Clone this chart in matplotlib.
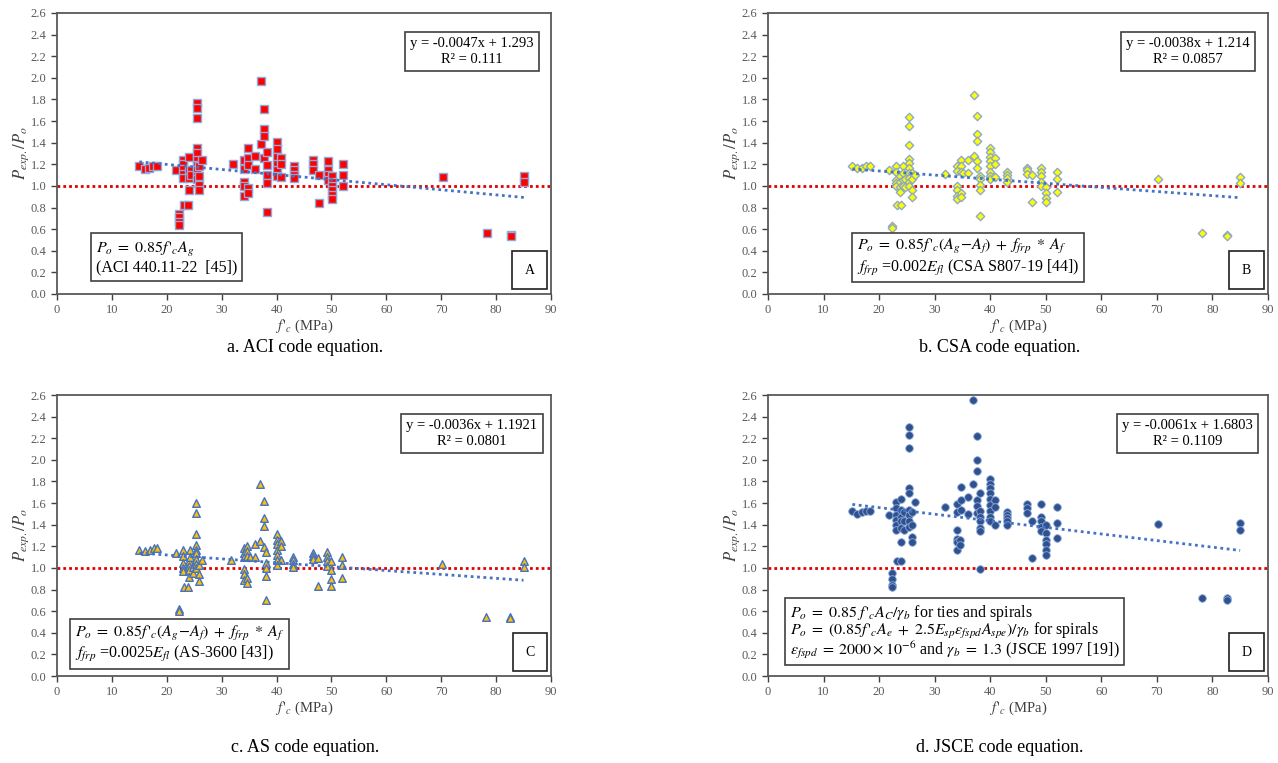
import numpy as np
import matplotlib.pyplot as plt

plt.rcParams['font.family'] = ['Liberation Serif', 'DejaVu Serif']
plt.rcParams['mathtext.fontset'] = 'stix'

# ---- datos: f'c (MPa) y P_exp/P_o para cada código ----
fc_aci = [15.0, 16.0, 16.8, 17.5, 18.2, 21.6,
          22.3, 22.3, 22.3, 22.3, 23.1, 23.8,
          23.0, 23.0, 23.0, 23.0, 23.0, 24.0, 24.0, 24.0, 24.0, 24.5, 24.5,
          25.5, 25.5, 25.5, 25.5, 25.5, 25.5, 25.5, 25.5, 25.5, 25.5,
          25.9, 25.9, 25.9, 25.9, 26.5, 32.0,
          34.1, 34.1, 34.1, 34.1, 34.1, 34.8, 34.8, 34.8, 34.8, 34.8,
          36.1, 36.1, 37.1, 37.1, 37.8, 37.8, 37.8, 37.8,
          38.2, 38.2, 38.2, 38.2, 38.2,
          40.1, 40.1, 40.1, 40.1, 40.1, 40.1, 40.9, 40.9, 40.9,
          43.1, 43.1, 43.1, 43.1, 46.7, 46.7, 46.7, 47.7, 47.7,
          49.3, 49.3, 49.3, 49.3, 50.1, 50.1, 50.1, 50.1, 50.1, 50.1,
          52.1, 52.1, 52.1, 70.3, 78.3, 82.7, 82.7, 85.1, 85.1]
ratio_aci = [1.18, 1.16, 1.17, 1.18, 1.18, 1.15,
             0.74, 0.71, 0.67, 0.64, 0.82, 0.82,
             1.24, 1.20, 1.16, 1.11, 1.07, 1.27, 1.15, 1.07, 0.96, 1.15, 1.10,
             1.77, 1.72, 1.63, 1.35, 1.30, 1.24, 1.19, 1.15, 1.09, 1.06,
             1.18, 1.09, 1.01, 0.96, 1.24, 1.20,
             1.24, 1.16, 1.04, 1.00, 0.91, 1.35, 1.26, 1.19, 0.98, 0.93,
             1.28, 1.16, 1.97, 1.39, 1.71, 1.53, 1.46, 1.26,
             1.31, 1.19, 1.10, 1.03, 0.76,
             1.41, 1.34, 1.27, 1.20, 1.15, 1.09, 1.26, 1.20, 1.08,
             1.18, 1.15, 1.10, 1.07, 1.24, 1.20, 1.15, 1.10, 0.84,
             1.23, 1.15, 1.10, 1.05, 1.09, 1.04, 1.00, 0.96, 0.92, 0.88,
             1.20, 1.10, 1.00, 1.08, 0.56, 0.55, 0.54, 1.09, 1.04]

fc_csa = [15.2, 16.1, 17.0, 17.6, 18.3, 21.8,
          22.4, 22.4, 23.2, 23.9,
          23.1, 23.1, 23.1, 23.1, 23.1, 23.8, 23.8, 23.8, 23.8,
          24.3, 24.3, 24.3, 24.3, 24.7, 24.7,
          25.4, 25.4, 25.4, 25.4, 25.4, 25.4, 25.4, 25.4, 25.4, 25.4,
          25.9, 25.9, 25.9, 25.9, 26.5, 31.8,
          34.1, 34.1, 34.1, 34.1, 34.1, 34.1, 34.7, 34.7, 34.7, 34.7, 34.7,
          35.2, 36.1, 36.1, 37.1, 37.1, 37.7, 37.7, 37.7, 37.7, 37.7,
          38.1, 38.1, 38.1, 38.1, 38.1,
          40.0, 40.0, 40.0, 40.0, 40.0, 40.0, 40.0, 40.0, 40.9, 40.9, 40.9,
          43.0, 43.0, 43.0, 43.0, 46.6, 46.6, 46.6, 47.6, 47.6,
          49.2, 49.2, 49.2, 49.2, 49.2, 50.0, 50.0, 50.0, 50.0,
          52.0, 52.0, 52.0, 70.2, 78.2, 82.6, 82.6, 85.0, 85.0]
ratio_csa = [1.18, 1.17, 1.17, 1.18, 1.18, 1.15,
             0.63, 0.61, 0.82, 0.82,
             1.18, 1.13, 1.05, 1.03, 1.00, 1.09, 1.04, 0.99, 0.94,
             1.18, 1.12, 1.05, 1.00, 1.06, 0.99,
             1.64, 1.55, 1.38, 1.25, 1.21, 1.17, 1.12, 1.07, 1.04, 1.00,
             1.12, 1.06, 0.96, 0.90, 1.10, 1.11,
             1.18, 1.14, 1.00, 0.96, 0.91, 0.88, 1.24, 1.18, 1.13, 0.93, 0.90,
             1.12, 1.24, 1.12, 1.84, 1.28, 1.65, 1.48, 1.42, 1.23, 1.17,
             1.09, 1.06, 1.01, 0.96, 0.72,
             1.35, 1.31, 1.27, 1.23, 1.18, 1.13, 1.09, 1.06, 1.26, 1.20, 1.08,
             1.13, 1.10, 1.07, 1.04, 1.17, 1.15, 1.11, 1.10, 0.85,
             1.17, 1.13, 1.09, 1.04, 1.00, 0.99, 0.93, 0.89, 0.85,
             1.13, 1.06, 0.94, 1.06, 0.56, 0.55, 0.54, 1.08, 1.03]

fc_as = [15.0, 16.0, 17.0, 17.6, 18.2, 21.6,
         22.3, 22.3, 23.1, 23.8,
         23.0, 23.0, 23.0, 23.0, 23.0, 24.0, 24.0, 24.0, 24.0,
         24.3, 24.3, 24.8, 24.8,
         25.4, 25.4, 25.4, 25.4, 25.4, 25.4, 25.4, 25.4, 25.4,
         25.9, 25.9, 25.9, 26.5, 31.7,
         34.0, 34.0, 34.0, 34.0, 34.0, 34.0, 34.6, 34.6, 34.6, 34.6, 34.6,
         35.2, 36.0, 36.0, 37.0, 37.0, 37.7, 37.7, 37.7, 37.7,
         38.1, 38.1, 38.1, 38.1, 38.1,
         40.0, 40.0, 40.0, 40.0, 40.0, 40.0, 40.0, 40.9, 40.9, 40.9,
         43.0, 43.0, 43.0, 43.0, 46.6, 46.6, 46.6, 47.6, 47.6,
         49.2, 49.2, 49.2, 49.2, 50.0, 50.0, 50.0, 50.0,
         52.0, 52.0, 52.0, 70.2, 78.2, 82.6, 82.6, 85.0, 85.0]
ratio_as = [1.17, 1.16, 1.17, 1.18, 1.18, 1.14,
            0.62, 0.60, 0.82, 0.82,
            1.17, 1.11, 1.05, 1.00, 0.97, 1.06, 1.02, 0.98, 0.92,
            1.17, 1.10, 1.01, 0.95,
            1.60, 1.51, 1.31, 1.21, 1.17, 1.14, 1.08, 1.04, 1.00,
            1.03, 0.94, 0.88, 1.07, 1.07,
            1.18, 1.14, 1.10, 0.99, 0.94, 0.89, 1.20, 1.16, 1.11, 0.91, 0.86,
            1.10, 1.22, 1.10, 1.78, 1.25, 1.62, 1.46, 1.39, 1.19,
            1.15, 1.05, 1.00, 0.93, 0.70,
            1.31, 1.26, 1.22, 1.17, 1.12, 1.07, 1.03, 1.25, 1.20, 1.07,
            1.10, 1.07, 1.04, 1.01, 1.14, 1.11, 1.08, 1.09, 0.83,
            1.15, 1.10, 1.06, 1.02, 1.06, 0.98, 0.90, 0.83,
            1.10, 1.03, 0.91, 1.04, 0.55, 0.55, 0.54, 1.06, 1.01]

fc_jsce = [15.2, 16.0, 17.0, 17.6, 18.3, 21.8,
           22.3, 22.3, 22.3, 22.3, 23.2, 23.9,
           23.1, 23.1, 23.1, 23.1, 23.1, 23.1, 24.0, 24.0, 24.0, 24.0, 24.0, 24.0,
           24.5, 24.5, 24.5,
           25.4, 25.4, 25.4, 25.4, 25.4, 25.4, 25.4, 25.4, 25.4,
           25.9, 25.9, 25.9, 25.9, 26.5, 31.8,
           34.0, 34.0, 34.0, 34.0, 34.0, 34.0, 34.5, 34.5, 34.7, 34.7, 34.7,
           36.1, 36.1, 37.0, 37.0, 37.7, 37.7, 37.7, 37.7, 37.7, 37.7,
           38.1, 38.1, 38.1, 38.1, 38.1, 38.1, 38.1,
           40.0, 40.0, 40.0, 40.0, 40.0, 40.0, 40.0, 40.0, 40.0, 40.9, 40.9, 40.9,
           43.0, 43.0, 43.0, 43.0, 43.0, 46.6, 46.6, 46.6, 47.6, 47.6,
           49.2, 49.2, 49.2, 49.2, 49.2, 50.0, 50.0, 50.0, 50.0, 50.0, 50.0,
           52.0, 52.0, 52.0, 70.2, 78.2, 82.6, 82.6, 85.0, 85.0]
ratio_jsce = [1.53, 1.50, 1.52, 1.53, 1.53, 1.49,
              0.95, 0.90, 0.84, 0.82, 1.06, 1.06,
              1.61, 1.55, 1.49, 1.44, 1.40, 1.35, 1.64, 1.54, 1.47, 1.43, 1.37, 1.24,
              1.52, 1.43, 1.35,
              2.30, 2.23, 2.11, 1.74, 1.69, 1.54, 1.49, 1.43, 1.38,
              1.52, 1.40, 1.29, 1.24, 1.61, 1.56,
              1.59, 1.52, 1.35, 1.27, 1.24, 1.17, 1.26, 1.21, 1.75, 1.63, 1.54,
              1.66, 1.50, 2.55, 1.78, 2.22, 2.00, 1.90, 1.63, 1.57, 1.51,
              1.69, 1.53, 1.47, 1.43, 1.37, 1.34, 0.99,
              1.82, 1.78, 1.74, 1.69, 1.64, 1.58, 1.53, 1.47, 1.43, 1.63, 1.56, 1.40,
              1.52, 1.49, 1.46, 1.43, 1.40, 1.59, 1.55, 1.51, 1.43, 1.09,
              1.59, 1.47, 1.43, 1.38, 1.34, 1.40, 1.32, 1.26, 1.22, 1.17, 1.12,
              1.56, 1.42, 1.28, 1.41, 0.72, 0.72, 0.70, 1.42, 1.35]

# ajuste lineal mostrado en cada panel (pendiente, ordenada, R2)
slopes = [-0.0047, -0.0038, -0.0036, -0.0061]
intercepts = [1.293, 1.214, 1.1921, 1.6803]
eq_labels = ["y = -0.0047x + 1.293\nR² = 0.111",
             "y = -0.0038x + 1.214\nR² = 0.0857",
             "y = -0.0036x + 1.1921\nR² = 0.0801",
             "y = -0.0061x + 1.6803\nR² = 0.1109"]
code_labels = [r"$P_o\;=\;0.85f\,'_{c}A_g$" + "\n(ACI 440.11-22  [45])",
               r"$P_o\;=\;0.85f\,'_{c}(A_g\!-\!A_f)\;+\;f_{frp}\;*\;A_f$" + "\n"
               + r"$f_{frp}$ =0.002$E_{fl}$ (CSA S807-19 [44])",
               r"$P_o\;=\;0.85f\,'_{c}(A_g\!-\!A_f)\;+\;f_{frp}\;*\;A_f$" + "\n"
               + r"$f_{frp}$ =0.0025$E_{fl}$ (AS-3600 [43])",
               r"$P_o\;=\;0.85\;f\,'_{c}A_C/\gamma_b$ for ties and spirals" + "\n"
               + r"$P_o\;=\;(0.85f\,'_{c}A_e\;+\;2.5E_{sp}\varepsilon_{fspd}A_{spe})/\gamma_b$ for spirals" + "\n"
               + r"$\varepsilon_{fspd}\;=\;2000 \times 10^{-6}$ and $\gamma_b\;=\;1.3$ (JSCE 1997 [19])"]
panel_letters = ["A", "B", "C", "D"]
captions = ["a. ACI code equation.", "b. CSA code equation.",
            "c. AS code equation.", "d. JSCE code equation."]

fc_all = [fc_aci, fc_csa, fc_as, fc_jsce]
ratio_all = [ratio_aci, ratio_csa, ratio_as, ratio_jsce]

# estilo de marcador de cada panel
marcadores = [dict(marker="s", s=34, c="#ff0000", edgecolors="#8eaadb", linewidths=1.0),
              dict(marker="D", s=18, c="#ffff00", edgecolors="#8ea9c8", linewidths=1.0),
              dict(marker="^", s=30, c="#ffc000", edgecolors="#4472c4", linewidths=1.0),
              dict(marker="o", s=30, c="#2f528f", edgecolors="#8eaadb", linewidths=0.6)]

posiciones = [[0.0446, 0.6147, 0.3865, 0.3683],
              [0.6009, 0.6147, 0.3912, 0.3683],
              [0.0446, 0.1140, 0.3865, 0.3683],
              [0.6009, 0.1140, 0.3912, 0.3683]]
caja_codigo = [(0.078, 0.065), (0.178, 0.058), (0.037, 0.042), (0.044, 0.055)]
tam_codigo = [11.5, 11.5, 11.5, 11.5]
esp_codigo = [1.1, 1.1, 1.1, 0.88]
caption_pos = [(0.239, 0.545), (0.782, 0.545), (0.239, 0.020), (0.782, 0.020)]

fig = plt.figure(figsize=(12.78, 7.63), dpi=100)

for i in range(4):
    ax = fig.add_axes(posiciones[i])
    ax.scatter(fc_all[i], ratio_all[i], zorder=3, **marcadores[i])
    # línea de tendencia
    xs = np.array([min(fc_all[i]), max(fc_all[i])])
    ax.plot(xs, slopes[i] * xs + intercepts[i], linestyle=(0, (1, 1.3)),
            color="#4472c4", lw=2.0, zorder=4)
    ax.axhline(1.0, color="#e00000", linestyle=(0, (1, 1.1)), lw=2.0, zorder=2)

    ax.set_xlim(0, 90)
    ax.set_ylim(0, 2.6)
    ax.set_xticks(np.arange(0, 91, 10))
    ax.set_yticks(np.arange(0, 2.61, 0.2))
    ax.set_yticklabels(["%.1f" % v for v in np.arange(0, 2.61, 0.2)])
    ax.tick_params(direction="out", length=4, width=1.0, labelsize=9,
                   colors="#404040", labelcolor="#595959")
    for sp in ax.spines.values():
        sp.set_color("#595959")
        sp.set_linewidth(1.3)
    ax.set_xlabel(r"$f\,'_{c}$ (MPa)", fontsize=10.5, color="#404040", labelpad=1)
    ax.set_ylabel(r"$P_{exp.}/P_o$", fontsize=12, color="#404040", labelpad=0)

    ax.text(0.840, 0.863, eq_labels[i], transform=ax.transAxes, ha="center",
            va="center", fontsize=10.5, linespacing=1.3,
            bbox=dict(boxstyle="square,pad=0.35", fc="white", ec="#404040", lw=1.2))
    ax.text(caja_codigo[i][0], caja_codigo[i][1], code_labels[i], transform=ax.transAxes,
            ha="left", va="bottom", fontsize=tam_codigo[i], linespacing=esp_codigo[i],
            bbox=dict(boxstyle="square,pad=0.3", fc="white", ec="#404040", lw=1.2))
    ax.text(0.957, 0.085, panel_letters[i], transform=ax.transAxes, ha="center",
            va="center", fontsize=10,
            bbox=dict(boxstyle="square,pad=0.9", fc="white", ec="#202020", lw=1.2))

    fig.text(caption_pos[i][0], caption_pos[i][1], captions[i], ha="center",
             va="center", fontsize=13)

plt.savefig("out.png", dpi=100)
